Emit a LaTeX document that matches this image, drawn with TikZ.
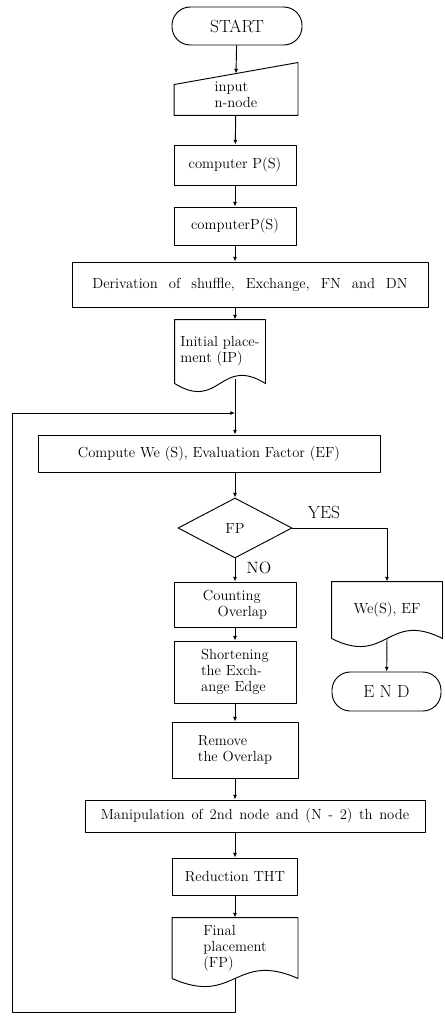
\documentclass[tikz,border=0pt]{standalone}
\usetikzlibrary{shapes.geometric,arrows.meta,calc}
\begin{document}
\begin{tikzpicture}[line join=round,line width=0.8pt,x=0.03cm,y=-0.03cm,
	every node/.style={font=\fontsize{12.5}{13.5}\selectfont},
	box/.style={draw,rectangle,inner sep=0pt},
	term/.style={draw,rectangle,rounded corners=0.55cm,inner sep=0pt,font=\fontsize{15}{17}\selectfont},
	arr/.style={-{Latex[length=4pt,width=3.5pt]}}]
		%==thong so
		\def\u{0.03cm}
		\def\docline#1{\draw (#1.south west)--(#1.north west)--(#1.north east)--(#1.south east)
			.. controls ($(#1.south)+(0,-28)$) and ($(#1.south)+(0,28)$) .. (#1.south west);}
		%==============
		\useasboundingbox (0,0) rectangle (444,1017);
		\node[term,minimum width=130*\u,minimum height=38*\u] (start) at (237,26) {START};
		\node[align=left,minimum width=123*\u,minimum height=41*\u] (inp) at (236,94.5) {input\\n-node};
		\draw (inp.south west)--(inp.south east)--($(inp.north east)+(0,-11)$)--($(inp.north west)+(0,11)$)--cycle;
		\node[box,minimum width=122*\u,minimum height=40*\u] (comp1) at (235,165) {computer P(S)};
		\node[box,minimum width=122*\u,minimum height=38*\u] (comp2) at (235,226) {computerP(S)};
		\node[box,minimum width=356*\u,minimum height=45*\u] (deriv) at (250,284.5)
			{\spaceskip=0.75em plus 0.1em\relax Derivation of shuffle, Exchange, FN and DN};
		\node[align=left,minimum width=90*\u,minimum height=63*\u] (ip) at (220,351.5) {Initial place-\\ment (IP)};
		\docline{ip}
		\coordinate (join) at (235,413);
		\coordinate (lp) at (12,1012);
		\node[box,minimum width=342*\u,minimum height=37*\u] (ef) at (209,453.5) {Compute We (S), Evaluation Factor (EF)};
		\node[draw,diamond,inner sep=0pt,minimum width=114*\u,minimum height=60*\u] (fp) at (235,528) {FP};
		\node[font=\fontsize{15}{17}\selectfont] (yes) at (324,512) {YES};
		\node[font=\fontsize{14}{16}\selectfont] (no) at (259,568) {NO};
		\node[box,align=left,minimum width=122*\u,minimum height=45*\u] (count) at (235,604.5) {Counting\\\hspace*{1em}Overlap};
		\node[box,align=left,minimum width=122*\u,minimum height=62*\u] (short) at (235,672) {Shortening\\the Exch-\\ange Edge};
		\node[box,align=left,minimum width=126*\u,minimum height=56*\u] (remove) at (235,750) {Remove\\the Overlap};
		\node[box,minimum width=340*\u,minimum height=32*\u] (manip) at (255,816)
			{\spaceskip=0.45em plus 0.1em\relax Manipulation of 2nd node and (N - 2) th node};
		\node[box,minimum width=125*\u,minimum height=37*\u] (red) at (235,876.5) {Reduction THT};
		\node[align=left,minimum width=125*\u,minimum height=60*\u] (fin) at (235,948) {Final\\placement\\(FP)};
		\docline{fin}
		\node[minimum width=110*\u,minimum height=56*\u] (wes) at (387,610) {We(S), EF};
		\docline{wes}
		\node[term,minimum width=109*\u,minimum height=39*\u] (endn) at (386.5,691.5) {E N D};
		%==noi
		\draw[arr] (start)--(inp.north);
		\draw[arr] (inp)--(comp1);
		\draw[arr] (comp1)--(comp2);
		\draw[arr] (comp2)--(comp2|-deriv.north);
		\draw[arr] (deriv.south-|comp2)--(comp2|-ip.north);
		\draw ($(ip.south-|comp2)+(0,-4)$)--(join);
		\draw[arr] (join)--(join|-ef.north);
		\draw[arr] (ef.south-|fp)--(fp.north);
		\draw[arr] (fp.east)-|(wes.north);
		\draw[arr] (fp.south)--(count.north);
		\draw[arr] (count)--(short);
		\draw[arr] (short)--(remove);
		\draw[arr] (remove)--(remove|-manip.north);
		\draw[arr] (manip.south-|red)--(red);
		\draw[arr] (red)--(fin);
		\draw[arr] (wes.south)--(endn);
		\draw[arr] (fin.south)|-(lp)|-(join);
\end{tikzpicture}
\end{document}
